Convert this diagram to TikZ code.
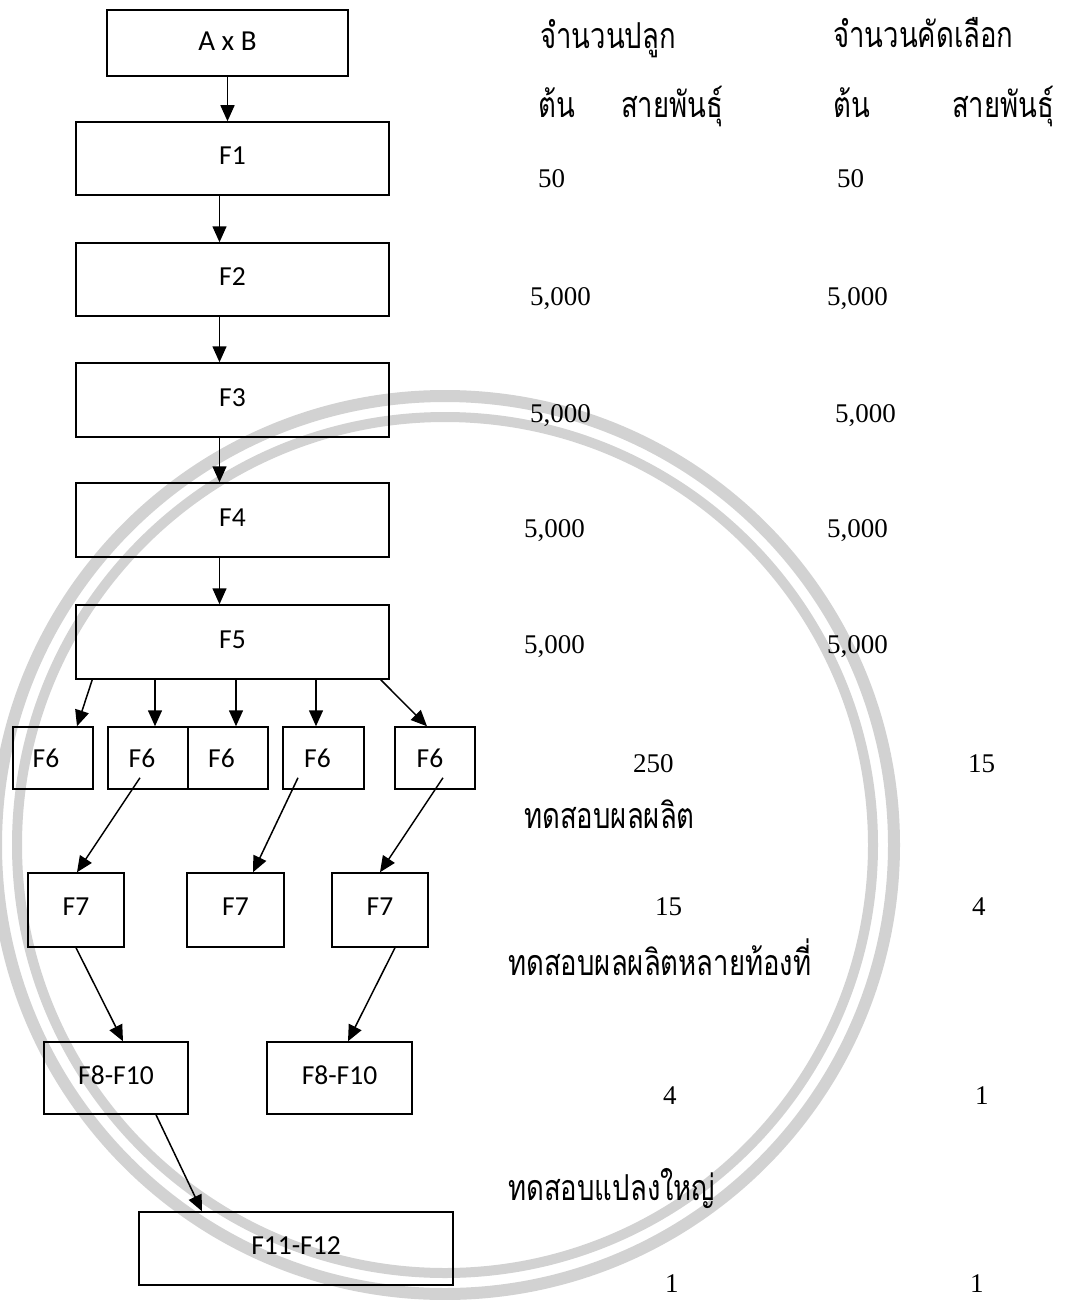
\documentclass[tikz,border=0pt]{standalone}
\usepackage{fontspec}
\setmainfont{Liberation Serif}
\newfontfamily\boxfont{Carlito}
\newfontfamily\thaifont[Script=Thai]{Loma}
\usetikzlibrary{arrows.meta}
\definecolor{wm}{RGB}{210,210,210}
\newcommand{\tht}[1]{\scalebox{1}[1.3]{#1}}
\begin{document}
\begin{tikzpicture}[x=1pt,y=1pt,
  box/.style={draw=black, line width=1.5pt, inner sep=0pt, font=\boxfont\fontsize{27.5}{30}\selectfont},
  bigbox/.style={box, minimum width=313pt, minimum height=73pt},
  sixbox/.style={box, minimum width=80pt, minimum height=62pt},
  sevenbox/.style={box, minimum width=96pt, minimum height=74pt},
  eightbox/.style={box, minimum width=144pt, minimum height=72pt},
  arr/.style={line width=1.5pt, -{Triangle[length=16pt,width=14pt]}},
  num/.style={anchor=base west, inner sep=0pt, font=\fontsize{27}{30}\selectfont},
  thaitxt/.style={anchor=base west, inner sep=0pt, font=\thaifont\fontsize{27.5}{30}\selectfont}]
\useasboundingbox (0,0) rectangle (1067,-1300);
\fill[white] (0,0) rectangle (1067,-1300);
% watermark rings
\coordinate (wc) at (445,-845);
\draw[wm, line width=12pt] (wc) circle[radius=449];
\draw[wm, line width=10pt] (wc) circle[radius=428];
% boxes
\node[box, minimum width=241pt, minimum height=66pt, font=\boxfont\fontsize{29}{31}\selectfont] (ab) at (227.5,-43) {\raisebox{3pt}{A x B}};
\node[bigbox] (f1) at (232.5,-158.5) {\raisebox{5pt}{F1}};
\node[bigbox] (f2) at (232.5,-279.5) {\raisebox{5pt}{F2}};
\node[bigbox, minimum height=74pt] (f3) at (232.5,-400) {\raisebox{5pt}{F3}};
\node[bigbox, minimum height=74pt] (f4) at (232.5,-520) {\raisebox{5pt}{F4}};
\node[bigbox, minimum height=74pt] (f5) at (232.5,-642) {\raisebox{5pt}{F5}};
\node[sixbox] (f6a) at (53,-758) {\hspace*{-14pt}F6};
\node[sixbox] (f6b) at (148,-758) {\hspace*{-12pt}F6};
\node[sixbox] (f6c) at (228,-758) {\hspace*{-13pt}F6};
\node[sixbox, minimum width=81pt] (f6d) at (323.5,-758) {\hspace*{-12pt}F6};
\node[sixbox] (f6e) at (435,-758) {\hspace*{-10pt}F6};
\node[sevenbox] (f7a) at (76,-910) {\raisebox{7pt}{F7}};
\node[sevenbox, minimum width=97pt] (f7b) at (235.5,-910) {\raisebox{7pt}{F7}};
\node[sevenbox] (f7c) at (380,-910) {\raisebox{7pt}{F7}};
\node[eightbox] (f8a) at (116,-1078) {\raisebox{5pt}{F8-F10}};
\node[eightbox, minimum width=145pt] (f8b) at (339.5,-1078) {\raisebox{5pt}{F8-F10}};
\node[box, minimum width=314pt, minimum height=73pt] (f11) at (296,-1248.5) {\raisebox{5pt}{F11-F12}};
% connectors
\draw[arr] (ab.south) -- (f1.north -| ab.south);
\draw[arr] ([xshift=-13pt]f1.south) -- ([xshift=-13pt]f2.north);
\draw[arr] ([xshift=-13pt]f2.south) -- ([xshift=-13pt]f3.north);
\draw[arr] ([xshift=-13pt]f3.south) -- ([xshift=-13pt]f4.north);
\draw[arr] ([xshift=-13pt]f4.south) -- ([xshift=-13pt]f5.north);
\draw[arr] ([xshift=17pt]f5.south west) -- ([xshift=24pt]f6a.north);
\draw[arr] ([xshift=7pt]f6b.north |- f5.south) -- ([xshift=7pt]f6b.north);
\draw[arr] ([xshift=8pt]f6c.north |- f5.south) -- ([xshift=8pt]f6c.north);
\draw[arr] ([xshift=-7.5pt]f6d.north |- f5.south) -- ([xshift=-7.5pt]f6d.north);
\draw[arr] ([xshift=-9pt]f5.south east) -- ([xshift=-8pt]f6e.north);
\draw[arr] ([xshift=-8pt,yshift=12pt]f6b.south) -- ([xshift=1pt]f7a.north);
\draw[arr] ([xshift=-25.5pt,yshift=12pt]f6d.south) -- ([xshift=17.5pt]f7b.north);
\draw[arr] ([xshift=8pt,yshift=12pt]f6e.south) -- (f7c.north);
\draw[arr] (f7a.south) -- ([xshift=7pt]f8a.north);
\draw[arr] ([xshift=15pt]f7c.south) -- ([xshift=8.5pt]f8b.north);
\draw[arr] ([xshift=40pt]f8a.south) -- ([xshift=-94pt]f11.north);
% right-hand columns
\node[thaitxt] (h1) at (540,-49) {\tht{จำนวนปลูก}};
\node[thaitxt] (h2) at (833,-48) {\tht{จำนวนคัดเลือก}};
\node[thaitxt] (h3) at (538,-118) {\tht{ต้น}};
\node[thaitxt] (h4) at (621,-118) {\tht{สายพันธุ์}};
\node[thaitxt] (h5) at (833,-118) {\tht{ต้น}};
\node[thaitxt] (h6) at (952,-118) {\tht{สายพันธุ์}};
\node[num] (n1a) at (538,-188) {50};
\node[num] (n1b) at (837,-188) {50};
\node[num] (n2a) at (530,-305) {5,000};
\node[num] (n2b) at (827,-305) {5,000};
\node[num] (n3a) at (530,-422) {5,000};
\node[num] (n3b) at (835,-422) {5,000};
\node[num] (n4a) at (524,-537) {5,000};
\node[num] (n4b) at (827,-537) {5,000};
\node[num] (n5a) at (524,-653) {5,000};
\node[num] (n5b) at (827,-653) {5,000};
\node[num] (n6a) at (633,-772) {250};
\node[num] (n6b) at (968,-772) {15};
\node[thaitxt] (t1) at (524,-828) {\tht{ทดสอบผลผลิต}};
\node[num] (n7a) at (655,-915) {15};
\node[num] (n7b) at (972,-915) {4};
\node[thaitxt] (t2) at (508,-975) {\tht{ทดสอบผลผลิตหลายท้องที่}};
\node[num] (n8a) at (663,-1104) {4};
\node[num] (n8b) at (975,-1104) {1};
\node[thaitxt] (t3) at (508,-1200) {\tht{ทดสอบแปลงใหญ่}};
\node[num] (n9a) at (665,-1292) {1};
\node[num] (n9b) at (970,-1292) {1};
\end{tikzpicture}
\end{document}
